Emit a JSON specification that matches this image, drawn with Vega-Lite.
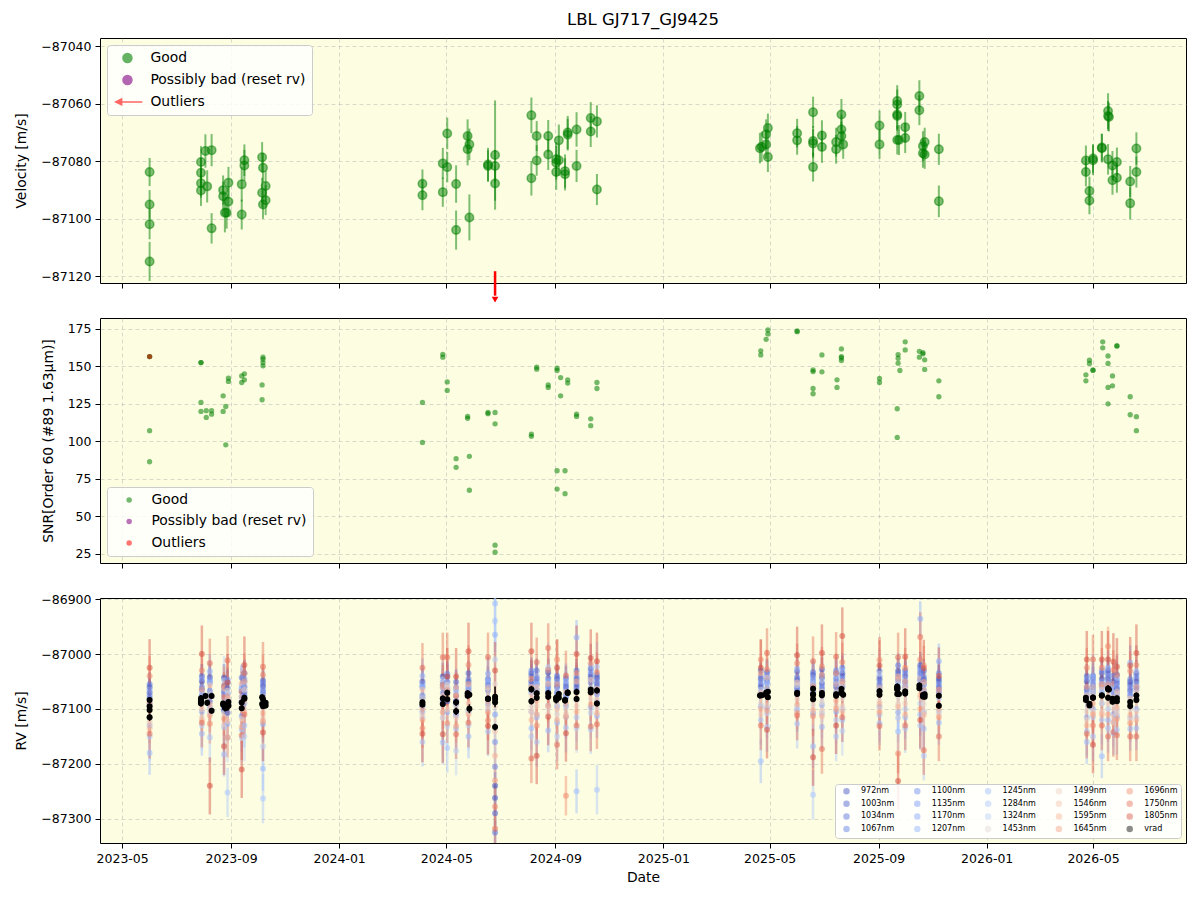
{
  "$schema": "https://vega.github.io/schema/vega-lite/v6.json",
  "background": "white",
  "padding": {"left": 14, "top": 12, "right": 14, "bottom": 10},
  "title": {"text": "LBL GJ717_GJ9425", "fontSize": 16.5, "fontWeight": "normal", "font": "DejaVu Sans", "color": "#000", "anchor": "middle", "frame": "group", "offset": 9},
  "config": {
    "font": "DejaVu Sans",
    "view": {"fill": "#fdfde1", "stroke": "#000000", "strokeWidth": 1},
    "axis": {"domain": false, "grid": true, "gridColor": "#b0b0b0", "gridOpacity": 0.6, "gridDash": [4, 3], "gridWidth": 0.8, "tickColor": "#000", "tickSize": 5, "tickWidth": 1, "labelFontSize": 12.5, "labelColor": "#000", "labelPadding": 4, "titleFontSize": 13.9, "titleFontWeight": "normal", "titleColor": "#000"},
    "axisX": {"titlePadding": 6},
    "axisY": {"titlePadding": 12},
    "legend": {"labelFont": "DejaVu Sans", "labelColor": "#000"}
  },
  "datasets": {
    "vel": [
      {"t":"2023-06-01","v":-87083.8,"e":4.9},{"t":"2023-06-01","v":-87095.1,"e":5.0},{"t":"2023-06-01","v":-87102.0,"e":5.2},{"t":"2023-06-01","v":-87114.9,"e":6.8},
      {"t":"2023-07-29","v":-87080.3,"e":5.5},{"t":"2023-07-29","v":-87084.1,"e":5.2},{"t":"2023-07-29","v":-87087.7,"e":5.0},{"t":"2023-07-29","v":-87090.2,"e":5.4},
      {"t":"2023-08-03","v":-87076.5,"e":5.8},{"t":"2023-08-05","v":-87088.8,"e":5.6},{"t":"2023-08-10","v":-87076.2,"e":5.6},{"t":"2023-08-10","v":-87103.4,"e":5.3},
      {"t":"2023-08-23","v":-87090.1,"e":5.1},{"t":"2023-08-23","v":-87092.2,"e":5.0},{"t":"2023-08-25","v":-87098.0,"e":6.8},{"t":"2023-08-27","v":-87098.0,"e":5.5},
      {"t":"2023-08-29","v":-87087.5,"e":5.5},{"t":"2023-08-29","v":-87094.1,"e":5.2},{"t":"2023-09-13","v":-87088.1,"e":6.0},{"t":"2023-09-13","v":-87098.6,"e":5.2},
      {"t":"2023-09-16","v":-87079.7,"e":5.5},{"t":"2023-09-16","v":-87081.5,"e":5.4},{"t":"2023-10-06","v":-87078.7,"e":5.3},{"t":"2023-10-06","v":-87091.0,"e":5.2},
      {"t":"2023-10-07","v":-87082.3,"e":5.1},{"t":"2023-10-07","v":-87095.1,"e":5.0},{"t":"2023-10-10","v":-87088.7,"e":5.3},{"t":"2023-10-10","v":-87093.6,"e":5.2},
      {"t":"2024-04-04","v":-87087.9,"e":5.0},{"t":"2024-04-04","v":-87091.9,"e":5.2},{"t":"2024-04-27","v":-87080.8,"e":5.4},{"t":"2024-04-27","v":-87090.8,"e":5.1},
      {"t":"2024-05-02","v":-87070.4,"e":5.5},{"t":"2024-05-02","v":-87082.1,"e":5.3},{"t":"2024-05-12","v":-87088.0,"e":6.5},{"t":"2024-05-12","v":-87104.0,"e":6.8},
      {"t":"2024-05-25","v":-87071.3,"e":5.8},{"t":"2024-05-25","v":-87075.9,"e":5.6},{"t":"2024-05-27","v":-87074.2,"e":5.5},{"t":"2024-05-27","v":-87099.6,"e":8.0},
      {"t":"2024-06-17","v":-87081.2,"e":5.8},{"t":"2024-06-17","v":-87081.7,"e":5.5},{"t":"2024-06-25","v":-87077.9,"e":19.0},{"t":"2024-06-25","v":-87081.7,"e":5.6},
      {"t":"2024-06-25","v":-87087.8,"e":6.0},{"t":"2024-06-25","v":-87133.0,"e":6.0,"o":1},
      {"t":"2024-08-05","v":-87064.1,"e":6.2},{"t":"2024-08-05","v":-87086.0,"e":6.0},{"t":"2024-08-11","v":-87071.3,"e":5.2},{"t":"2024-08-11","v":-87079.8,"e":5.3},
      {"t":"2024-08-24","v":-87071.3,"e":5.6},{"t":"2024-08-24","v":-87077.7,"e":5.4},{"t":"2024-09-02","v":-87079.4,"e":6.0},{"t":"2024-09-02","v":-87080.6,"e":5.8},
      {"t":"2024-09-02","v":-87083.8,"e":6.2},{"t":"2024-09-05","v":-87072.8,"e":5.5},{"t":"2024-09-05","v":-87079.7,"e":5.4},{"t":"2024-09-12","v":-87083.5,"e":5.8},
      {"t":"2024-09-12","v":-87084.6,"e":5.6},{"t":"2024-09-15","v":-87070.1,"e":5.8},{"t":"2024-09-15","v":-87070.8,"e":5.5},{"t":"2024-09-25","v":-87069.0,"e":6.0},
      {"t":"2024-09-25","v":-87081.7,"e":5.6},{"t":"2024-10-11","v":-87065.0,"e":5.5},{"t":"2024-10-11","v":-87069.7,"e":5.4},{"t":"2024-10-18","v":-87066.2,"e":5.6},
      {"t":"2024-10-18","v":-87089.9,"e":5.4},
      {"t":"2025-04-20","v":-87075.5,"e":5.3},{"t":"2025-04-22","v":-87075.0,"e":5.2},{"t":"2025-04-27","v":-87074.2,"e":5.0},{"t":"2025-04-27","v":-87070.7,"e":5.2},
      {"t":"2025-04-29","v":-87068.5,"e":5.0},{"t":"2025-04-29","v":-87078.6,"e":5.2},{"t":"2025-06-01","v":-87070.3,"e":5.0},{"t":"2025-06-01","v":-87072.8,"e":5.0},
      {"t":"2025-06-19","v":-87063.0,"e":5.4},{"t":"2025-06-19","v":-87073.0,"e":5.2},{"t":"2025-06-19","v":-87073.9,"e":5.0},{"t":"2025-06-19","v":-87082.1,"e":5.0},
      {"t":"2025-06-29","v":-87071.1,"e":5.3},{"t":"2025-06-29","v":-87075.1,"e":5.5},{"t":"2025-07-15","v":-87073.4,"e":5.0},{"t":"2025-07-15","v":-87075.9,"e":5.0},
      {"t":"2025-07-21","v":-87063.8,"e":5.4},{"t":"2025-07-21","v":-87069.0,"e":5.2},{"t":"2025-07-21","v":-87071.3,"e":5.0},{"t":"2025-07-23","v":-87074.2,"e":5.0},
      {"t":"2025-09-02","v":-87067.6,"e":5.2},{"t":"2025-09-02","v":-87074.2,"e":5.0},{"t":"2025-09-22","v":-87059.1,"e":5.5},{"t":"2025-09-22","v":-87060.3,"e":5.2},
      {"t":"2025-09-22","v":-87063.8,"e":5.0},{"t":"2025-09-22","v":-87064.3,"e":5.2},{"t":"2025-09-22","v":-87072.7,"e":5.0},{"t":"2025-09-24","v":-87072.7,"e":5.2},
      {"t":"2025-10-01","v":-87068.2,"e":5.3},{"t":"2025-10-01","v":-87072.0,"e":5.2},{"t":"2025-10-17","v":-87057.4,"e":5.5},{"t":"2025-10-17","v":-87062.3,"e":5.2},
      {"t":"2025-10-21","v":-87074.8,"e":5.2},{"t":"2025-10-21","v":-87077.3,"e":5.0},{"t":"2025-10-23","v":-87073.4,"e":5.0},{"t":"2025-10-23","v":-87077.7,"e":5.0},
      {"t":"2025-11-08","v":-87075.9,"e":5.4},{"t":"2025-11-08","v":-87094.0,"e":5.5},
      {"t":"2026-04-23","v":-87079.8,"e":5.2},{"t":"2026-04-23","v":-87083.8,"e":5.0},{"t":"2026-04-27","v":-87090.4,"e":5.0},{"t":"2026-04-27","v":-87093.7,"e":4.8},
      {"t":"2026-05-01","v":-87079.7,"e":5.2},{"t":"2026-05-01","v":-87079.1,"e":5.0},{"t":"2026-05-11","v":-87075.5,"e":5.0},{"t":"2026-05-11","v":-87075.3,"e":4.8},
      {"t":"2026-05-18","v":-87062.6,"e":6.2},{"t":"2026-05-18","v":-87064.3,"e":5.2},{"t":"2026-05-18","v":-87079.4,"e":5.3},{"t":"2026-05-19","v":-87064.7,"e":5.0},
      {"t":"2026-05-23","v":-87086.7,"e":5.0},{"t":"2026-05-23","v":-87081.5,"e":5.0},{"t":"2026-05-28","v":-87080.3,"e":5.0},{"t":"2026-05-28","v":-87085.8,"e":5.2},
      {"t":"2026-06-12","v":-87087.1,"e":5.4},{"t":"2026-06-12","v":-87094.7,"e":5.6},{"t":"2026-06-19","v":-87075.6,"e":5.6},{"t":"2026-06-19","v":-87083.8,"e":5.4}
    ],
    "snr": [
      {"t":"2023-06-01","s":156.6},{"t":"2023-06-01","s":156.6},{"t":"2023-06-01","s":107.2},{"t":"2023-06-01","s":86.5},
      {"t":"2023-07-29","s":152.6},{"t":"2023-07-29","s":152.6},{"t":"2023-07-29","s":126.0},{"t":"2023-07-29","s":120.0},
      {"t":"2023-08-04","s":120.5},{"t":"2023-08-04","s":116.0},{"t":"2023-08-10","s":120.5},{"t":"2023-08-10","s":118.2},
      {"t":"2023-08-23","s":130.4},{"t":"2023-08-23","s":120.0},{"t":"2023-08-26","s":123.3},{"t":"2023-08-26","s":97.8},
      {"t":"2023-08-29","s":142.2},{"t":"2023-08-29","s":140.0},{"t":"2023-09-13","s":143.7},{"t":"2023-09-13","s":139.3},
      {"t":"2023-09-16","s":145.1},{"t":"2023-09-16","s":141.1},{"t":"2023-10-06","s":137.7},{"t":"2023-10-06","s":127.8},
      {"t":"2023-10-07","s":156.2},{"t":"2023-10-07","s":154.8},{"t":"2023-10-07","s":152.6},{"t":"2023-10-07","s":150.4},
      {"t":"2024-04-04","s":126.0},{"t":"2024-04-04","s":99.4},{"t":"2024-04-27","s":158.1},{"t":"2024-04-27","s":156.2},
      {"t":"2024-05-02","s":139.7},{"t":"2024-05-02","s":134.0},{"t":"2024-05-12","s":88.5},{"t":"2024-05-12","s":82.8},
      {"t":"2024-05-25","s":116.7},{"t":"2024-05-25","s":115.4},{"t":"2024-05-27","s":90.1},{"t":"2024-05-27","s":67.5},
      {"t":"2024-06-17","s":119.3},{"t":"2024-06-17","s":118.5},{"t":"2024-06-25","s":119.3},{"t":"2024-06-25","s":111.8},
      {"t":"2024-06-25","s":30.9},{"t":"2024-06-25","s":26.2},{"t":"2024-08-05","s":104.9},{"t":"2024-08-05","s":103.4},
      {"t":"2024-08-11","s":149.5},{"t":"2024-08-11","s":148.2},{"t":"2024-08-24","s":137.7},{"t":"2024-08-24","s":136.0},
      {"t":"2024-09-03","s":148.8},{"t":"2024-09-03","s":147.3},{"t":"2024-09-03","s":80.5},{"t":"2024-09-03","s":68.3},
      {"t":"2024-09-07","s":130.4},{"t":"2024-09-07","s":142.6},{"t":"2024-09-12","s":80.5},{"t":"2024-09-12","s":65.2},
      {"t":"2024-09-15","s":141.1},{"t":"2024-09-15","s":138.9},{"t":"2024-09-25","s":118.2},{"t":"2024-09-25","s":116.7},
      {"t":"2024-10-11","s":115.1},{"t":"2024-10-11","s":110.5},{"t":"2024-10-18","s":139.3},{"t":"2024-10-18","s":135.3},
      {"t":"2025-04-21","s":160.4},{"t":"2025-04-21","s":157.7},{"t":"2025-04-27","s":168.1},{"t":"2025-04-29","s":174.3},
      {"t":"2025-04-29","s":171.7},{"t":"2025-06-01","s":173.7},{"t":"2025-06-01","s":173.2},{"t":"2025-06-19","s":147.7},
      {"t":"2025-06-19","s":146.6},{"t":"2025-06-19","s":135.3},{"t":"2025-06-19","s":131.8},{"t":"2025-06-29","s":157.7},
      {"t":"2025-06-29","s":146.4},{"t":"2025-07-16","s":141.1},{"t":"2025-07-16","s":136.0},{"t":"2025-07-21","s":161.7},
      {"t":"2025-07-21","s":156.6},{"t":"2025-07-21","s":155.7},{"t":"2025-07-21","s":153.9},{"t":"2025-09-02","s":142.0},
      {"t":"2025-09-02","s":139.3},{"t":"2025-09-22","s":121.8},{"t":"2025-09-22","s":102.7},{"t":"2025-09-23","s":155.5},
      {"t":"2025-09-23","s":152.2},{"t":"2025-09-23","s":157.9},{"t":"2025-09-25","s":147.3},{"t":"2025-10-01","s":166.4},
      {"t":"2025-10-01","s":161.0},{"t":"2025-10-17","s":160.1},{"t":"2025-10-17","s":156.2},{"t":"2025-10-21","s":159.2},
      {"t":"2025-10-21","s":158.4},{"t":"2025-10-23","s":154.4},{"t":"2025-10-23","s":148.0},{"t":"2025-11-08","s":140.4},
      {"t":"2025-11-08","s":129.8},
      {"t":"2026-04-23","s":144.4},{"t":"2026-04-23","s":140.4},{"t":"2026-04-27","s":154.2},{"t":"2026-04-27","s":152.0},
      {"t":"2026-05-01","s":147.5},{"t":"2026-05-01","s":147.5},{"t":"2026-05-12","s":166.4},{"t":"2026-05-12","s":162.4},
      {"t":"2026-05-18","s":136.0},{"t":"2026-05-18","s":125.1},{"t":"2026-05-18","s":152.0},{"t":"2026-05-18","s":157.0},
      {"t":"2026-05-23","s":143.7},{"t":"2026-05-23","s":137.1},{"t":"2026-05-28","s":163.7},{"t":"2026-05-28","s":163.7},
      {"t":"2026-06-12","s":129.8},{"t":"2026-06-12","s":117.8},{"t":"2026-06-19","s":116.5},{"t":"2026-06-19","s":107.2},
      {"t":"2023-06-01","s":156.6,"o":1}
    ],
    "werr": [
      {"w":972,"e":25},{"w":1003,"e":24},{"w":1034,"e":22},{"w":1067,"e":22},{"w":1100,"e":22},{"w":1135,"e":24},{"w":1170,"e":26},
      {"w":1207,"e":32},{"w":1245,"e":40},{"w":1284,"e":45},{"w":1324,"e":45},{"w":1453,"e":32},{"w":1499,"e":28},{"w":1546,"e":26},
      {"w":1595,"e":28},{"w":1645,"e":30},{"w":1696,"e":36},{"w":1750,"e":45},{"w":1805,"e":52}
    ],
    "rv": [
      {"t":"2023-06-01","w":972,"v":-87060},{"t":"2023-06-01","w":1003,"v":-87070},{"t":"2023-06-01","w":1034,"v":-87080},{"t":"2023-06-01","w":1067,"v":-87055},{"t":"2023-06-01","w":1100,"v":-87075},{"t":"2023-06-01","w":1135,"v":-87090},{"t":"2023-06-01","w":1170,"v":-87065},{"t":"2023-06-01","w":1207,"v":-87130},{"t":"2023-06-01","w":1245,"v":-87180},{"t":"2023-06-01","w":1284,"v":-87150},{"t":"2023-06-01","w":1324,"v":-87115},{"t":"2023-06-01","w":1453,"v":-87120},{"t":"2023-06-01","w":1499,"v":-87095},{"t":"2023-06-01","w":1546,"v":-87125},{"t":"2023-06-01","w":1595,"v":-87135},{"t":"2023-06-01","w":1645,"v":-87090},{"t":"2023-06-01","w":1696,"v":-87040},{"t":"2023-06-01","w":1750,"v":-87145},{"t":"2023-06-01","w":1805,"v":-87025},
      {"t":"2023-07-30","w":972,"v":-87050},{"t":"2023-07-30","w":1003,"v":-87065},{"t":"2023-07-30","w":1034,"v":-87040},{"t":"2023-07-30","w":1067,"v":-87075},{"t":"2023-07-30","w":1100,"v":-87060},{"t":"2023-07-30","w":1135,"v":-87080},{"t":"2023-07-30","w":1170,"v":-87045},{"t":"2023-07-30","w":1207,"v":-87105},{"t":"2023-07-30","w":1245,"v":-87145},{"t":"2023-07-30","w":1284,"v":-87070},{"t":"2023-07-30","w":1324,"v":-87130},{"t":"2023-07-30","w":1453,"v":-87115},{"t":"2023-07-30","w":1499,"v":-87080},{"t":"2023-07-30","w":1546,"v":-87100},{"t":"2023-07-30","w":1595,"v":-87120},{"t":"2023-07-30","w":1645,"v":-87065},{"t":"2023-07-30","w":1696,"v":-87030},{"t":"2023-07-30","w":1750,"v":-87125},{"t":"2023-07-30","w":1805,"v":-87000},
      {"t":"2023-08-08","w":972,"v":-87072},{"t":"2023-08-08","w":1003,"v":-87042},{"t":"2023-08-08","w":1034,"v":-87087},{"t":"2023-08-08","w":1067,"v":-87052},{"t":"2023-08-08","w":1100,"v":-87067},{"t":"2023-08-08","w":1135,"v":-87047},{"t":"2023-08-08","w":1170,"v":-87097},{"t":"2023-08-08","w":1207,"v":-87032},{"t":"2023-08-08","w":1245,"v":-87052},{"t":"2023-08-08","w":1284,"v":-87152},{"t":"2023-08-08","w":1324,"v":-87107},{"t":"2023-08-08","w":1453,"v":-87072},{"t":"2023-08-08","w":1499,"v":-87102},{"t":"2023-08-08","w":1546,"v":-87057},{"t":"2023-08-08","w":1595,"v":-87092},{"t":"2023-08-08","w":1645,"v":-87112},{"t":"2023-08-08","w":1696,"v":-87127},{"t":"2023-08-08","w":1750,"v":-87017},{"t":"2023-08-08","w":1805,"v":-87240},
      {"t":"2023-08-24","w":972,"v":-87043},{"t":"2023-08-24","w":1003,"v":-87103},{"t":"2023-08-24","w":1034,"v":-87068},{"t":"2023-08-24","w":1067,"v":-87058},{"t":"2023-08-24","w":1100,"v":-87098},{"t":"2023-08-24","w":1135,"v":-87073},{"t":"2023-08-24","w":1170,"v":-87063},{"t":"2023-08-24","w":1207,"v":-87083},{"t":"2023-08-24","w":1245,"v":-87183},{"t":"2023-08-24","w":1284,"v":-87133},{"t":"2023-08-24","w":1324,"v":-87048},{"t":"2023-08-24","w":1453,"v":-87108},{"t":"2023-08-24","w":1499,"v":-87128},{"t":"2023-08-24","w":1546,"v":-87088},{"t":"2023-08-24","w":1595,"v":-87063},{"t":"2023-08-24","w":1645,"v":-87118},{"t":"2023-08-24","w":1696,"v":-87058},{"t":"2023-08-24","w":1750,"v":-87078},{"t":"2023-08-24","w":1805,"v":-87168},
      {"t":"2023-08-28","w":972,"v":-87107},{"t":"2023-08-28","w":1003,"v":-87062},{"t":"2023-08-28","w":1034,"v":-87052},{"t":"2023-08-28","w":1067,"v":-87087},{"t":"2023-08-28","w":1100,"v":-87047},{"t":"2023-08-28","w":1135,"v":-87082},{"t":"2023-08-28","w":1170,"v":-87072},{"t":"2023-08-28","w":1207,"v":-87127},{"t":"2023-08-28","w":1245,"v":-87072},{"t":"2023-08-28","w":1284,"v":-87252},{"t":"2023-08-28","w":1324,"v":-87152},{"t":"2023-08-28","w":1453,"v":-87067},{"t":"2023-08-28","w":1499,"v":-87082},{"t":"2023-08-28","w":1546,"v":-87122},{"t":"2023-08-28","w":1595,"v":-87097},{"t":"2023-08-28","w":1645,"v":-87077},{"t":"2023-08-28","w":1696,"v":-87152},{"t":"2023-08-28","w":1750,"v":-87012},{"t":"2023-08-28","w":1805,"v":-87052},
      {"t":"2023-09-13","w":972,"v":-87068},{"t":"2023-09-13","w":1003,"v":-87088},{"t":"2023-09-13","w":1034,"v":-87078},{"t":"2023-09-13","w":1067,"v":-87043},{"t":"2023-09-13","w":1100,"v":-87063},{"t":"2023-09-13","w":1135,"v":-87113},{"t":"2023-09-13","w":1170,"v":-87088},{"t":"2023-09-13","w":1207,"v":-87058},{"t":"2023-09-13","w":1245,"v":-87138},{"t":"2023-09-13","w":1284,"v":-87063},{"t":"2023-09-13","w":1324,"v":-87153},{"t":"2023-09-13","w":1453,"v":-87098},{"t":"2023-09-13","w":1499,"v":-87118},{"t":"2023-09-13","w":1546,"v":-87078},{"t":"2023-09-13","w":1595,"v":-87053},{"t":"2023-09-13","w":1645,"v":-87133},{"t":"2023-09-13","w":1696,"v":-87068},{"t":"2023-09-13","w":1750,"v":-87148},{"t":"2023-09-13","w":1805,"v":-87210},
      {"t":"2023-09-16","w":972,"v":-87060},{"t":"2023-09-16","w":1003,"v":-87035},{"t":"2023-09-16","w":1034,"v":-87070},{"t":"2023-09-16","w":1067,"v":-87050},{"t":"2023-09-16","w":1100,"v":-87075},{"t":"2023-09-16","w":1135,"v":-87045},{"t":"2023-09-16","w":1170,"v":-87065},{"t":"2023-09-16","w":1207,"v":-87090},{"t":"2023-09-16","w":1245,"v":-87130},{"t":"2023-09-16","w":1284,"v":-87055},{"t":"2023-09-16","w":1324,"v":-87150},{"t":"2023-09-16","w":1453,"v":-87100},{"t":"2023-09-16","w":1499,"v":-87065},{"t":"2023-09-16","w":1546,"v":-87085},{"t":"2023-09-16","w":1595,"v":-87105},{"t":"2023-09-16","w":1645,"v":-87050},{"t":"2023-09-16","w":1696,"v":-87035},{"t":"2023-09-16","w":1750,"v":-87110},{"t":"2023-09-16","w":1805,"v":-87020},
      {"t":"2023-10-07","w":972,"v":-87058},{"t":"2023-10-07","w":1003,"v":-87078},{"t":"2023-10-07","w":1034,"v":-87048},{"t":"2023-10-07","w":1067,"v":-87068},{"t":"2023-10-07","w":1100,"v":-87053},{"t":"2023-10-07","w":1135,"v":-87073},{"t":"2023-10-07","w":1170,"v":-87063},{"t":"2023-10-07","w":1207,"v":-87128},{"t":"2023-10-07","w":1245,"v":-87209},{"t":"2023-10-07","w":1284,"v":-87263},{"t":"2023-10-07","w":1324,"v":-87168},{"t":"2023-10-07","w":1453,"v":-87098},{"t":"2023-10-07","w":1499,"v":-87118},{"t":"2023-10-07","w":1546,"v":-87078},{"t":"2023-10-07","w":1595,"v":-87108},{"t":"2023-10-07","w":1645,"v":-87123},{"t":"2023-10-07","w":1696,"v":-87038},{"t":"2023-10-07","w":1750,"v":-87023},{"t":"2023-10-07","w":1805,"v":-87143},
      {"t":"2024-04-04","w":972,"v":-87080},{"t":"2024-04-04","w":1003,"v":-87050},{"t":"2024-04-04","w":1034,"v":-87095},{"t":"2024-04-04","w":1067,"v":-87060},{"t":"2024-04-04","w":1100,"v":-87075},{"t":"2024-04-04","w":1135,"v":-87055},{"t":"2024-04-04","w":1170,"v":-87105},{"t":"2024-04-04","w":1207,"v":-87040},{"t":"2024-04-04","w":1245,"v":-87060},{"t":"2024-04-04","w":1284,"v":-87160},{"t":"2024-04-04","w":1324,"v":-87115},{"t":"2024-04-04","w":1453,"v":-87080},{"t":"2024-04-04","w":1499,"v":-87110},{"t":"2024-04-04","w":1546,"v":-87065},{"t":"2024-04-04","w":1595,"v":-87100},{"t":"2024-04-04","w":1645,"v":-87120},{"t":"2024-04-04","w":1696,"v":-87135},{"t":"2024-04-04","w":1750,"v":-87025},{"t":"2024-04-04","w":1805,"v":-87145},
      {"t":"2024-04-27","w":972,"v":-87041},{"t":"2024-04-27","w":1003,"v":-87091},{"t":"2024-04-27","w":1034,"v":-87056},{"t":"2024-04-27","w":1067,"v":-87061},{"t":"2024-04-27","w":1100,"v":-87086},{"t":"2024-04-27","w":1135,"v":-87071},{"t":"2024-04-27","w":1170,"v":-87051},{"t":"2024-04-27","w":1207,"v":-87081},{"t":"2024-04-27","w":1245,"v":-87161},{"t":"2024-04-27","w":1284,"v":-87116},{"t":"2024-04-27","w":1324,"v":-87046},{"t":"2024-04-27","w":1453,"v":-87106},{"t":"2024-04-27","w":1499,"v":-87116},{"t":"2024-04-27","w":1546,"v":-87076},{"t":"2024-04-27","w":1595,"v":-87061},{"t":"2024-04-27","w":1645,"v":-87106},{"t":"2024-04-27","w":1696,"v":-87056},{"t":"2024-04-27","w":1750,"v":-87006},{"t":"2024-04-27","w":1805,"v":-87146},
      {"t":"2024-05-02","w":972,"v":-87086},{"t":"2024-05-02","w":1003,"v":-87051},{"t":"2024-05-02","w":1034,"v":-87041},{"t":"2024-05-02","w":1067,"v":-87066},{"t":"2024-05-02","w":1100,"v":-87036},{"t":"2024-05-02","w":1135,"v":-87071},{"t":"2024-05-02","w":1170,"v":-87061},{"t":"2024-05-02","w":1207,"v":-87106},{"t":"2024-05-02","w":1245,"v":-87051},{"t":"2024-05-02","w":1284,"v":-87171},{"t":"2024-05-02","w":1324,"v":-87131},{"t":"2024-05-02","w":1453,"v":-87056},{"t":"2024-05-02","w":1499,"v":-87061},{"t":"2024-05-02","w":1546,"v":-87101},{"t":"2024-05-02","w":1595,"v":-87076},{"t":"2024-05-02","w":1645,"v":-87066},{"t":"2024-05-02","w":1696,"v":-87126},{"t":"2024-05-02","w":1750,"v":-87006},{"t":"2024-05-02","w":1805,"v":-87041},
      {"t":"2024-05-12","w":972,"v":-87076},{"t":"2024-05-12","w":1003,"v":-87086},{"t":"2024-05-12","w":1034,"v":-87091},{"t":"2024-05-12","w":1067,"v":-87051},{"t":"2024-05-12","w":1100,"v":-87061},{"t":"2024-05-12","w":1135,"v":-87111},{"t":"2024-05-12","w":1170,"v":-87086},{"t":"2024-05-12","w":1207,"v":-87066},{"t":"2024-05-12","w":1245,"v":-87136},{"t":"2024-05-12","w":1284,"v":-87071},{"t":"2024-05-12","w":1324,"v":-87176},{"t":"2024-05-12","w":1453,"v":-87096},{"t":"2024-05-12","w":1499,"v":-87116},{"t":"2024-05-12","w":1546,"v":-87076},{"t":"2024-05-12","w":1595,"v":-87061},{"t":"2024-05-12","w":1645,"v":-87131},{"t":"2024-05-12","w":1696,"v":-87076},{"t":"2024-05-12","w":1750,"v":-87146},{"t":"2024-05-12","w":1805,"v":-87041},
      {"t":"2024-05-26","w":972,"v":-87050},{"t":"2024-05-26","w":1003,"v":-87065},{"t":"2024-05-26","w":1034,"v":-87035},{"t":"2024-05-26","w":1067,"v":-87060},{"t":"2024-05-26","w":1100,"v":-87045},{"t":"2024-05-26","w":1135,"v":-87070},{"t":"2024-05-26","w":1170,"v":-87055},{"t":"2024-05-26","w":1207,"v":-87105},{"t":"2024-05-26","w":1245,"v":-87150},{"t":"2024-05-26","w":1284,"v":-87060},{"t":"2024-05-26","w":1324,"v":-87130},{"t":"2024-05-26","w":1453,"v":-87105},{"t":"2024-05-26","w":1499,"v":-87070},{"t":"2024-05-26","w":1546,"v":-87090},{"t":"2024-05-26","w":1595,"v":-87110},{"t":"2024-05-26","w":1645,"v":-87055},{"t":"2024-05-26","w":1696,"v":-87020},{"t":"2024-05-26","w":1750,"v":-87125},{"t":"2024-05-26","w":1805,"v":-86995},
      {"t":"2024-06-17","w":972,"v":-87066},{"t":"2024-06-17","w":1003,"v":-87046},{"t":"2024-06-17","w":1034,"v":-87081},{"t":"2024-06-17","w":1067,"v":-87056},{"t":"2024-06-17","w":1100,"v":-87061},{"t":"2024-06-17","w":1135,"v":-87051},{"t":"2024-06-17","w":1170,"v":-87091},{"t":"2024-06-17","w":1207,"v":-87036},{"t":"2024-06-17","w":1245,"v":-87046},{"t":"2024-06-17","w":1284,"v":-87141},{"t":"2024-06-17","w":1324,"v":-87101},{"t":"2024-06-17","w":1453,"v":-87066},{"t":"2024-06-17","w":1499,"v":-87096},{"t":"2024-06-17","w":1546,"v":-87061},{"t":"2024-06-17","w":1595,"v":-87086},{"t":"2024-06-17","w":1645,"v":-87106},{"t":"2024-06-17","w":1696,"v":-87121},{"t":"2024-06-17","w":1750,"v":-87006},{"t":"2024-06-17","w":1805,"v":-87131},
      {"t":"2024-06-25","w":972,"v":-87240},{"t":"2024-06-25","w":1003,"v":-87262},{"t":"2024-06-25","w":1034,"v":-87290},{"t":"2024-06-25","w":1067,"v":-87325},{"t":"2024-06-25","w":1100,"v":-87205},{"t":"2024-06-25","w":1135,"v":-87160},{"t":"2024-06-25","w":1170,"v":-87110},{"t":"2024-06-25","w":1207,"v":-86965},{"t":"2024-06-25","w":1245,"v":-86908},{"t":"2024-06-25","w":1284,"v":-86940},{"t":"2024-06-25","w":1324,"v":-87010},{"t":"2024-06-25","w":1453,"v":-87055},{"t":"2024-06-25","w":1499,"v":-87095},{"t":"2024-06-25","w":1546,"v":-87140},{"t":"2024-06-25","w":1595,"v":-87185},{"t":"2024-06-25","w":1645,"v":-87230},{"t":"2024-06-25","w":1696,"v":-87278},{"t":"2024-06-25","w":1750,"v":-87318},{"t":"2024-06-25","w":1805,"v":-87030},
      {"t":"2024-08-05","w":972,"v":-87050},{"t":"2024-08-05","w":1003,"v":-87035},{"t":"2024-08-05","w":1034,"v":-87065},{"t":"2024-08-05","w":1067,"v":-87040},{"t":"2024-08-05","w":1100,"v":-87055},{"t":"2024-08-05","w":1135,"v":-87030},{"t":"2024-08-05","w":1170,"v":-87070},{"t":"2024-08-05","w":1207,"v":-87060},{"t":"2024-08-05","w":1245,"v":-87135},{"t":"2024-08-05","w":1284,"v":-87105},{"t":"2024-08-05","w":1324,"v":-87150},{"t":"2024-08-05","w":1453,"v":-87095},{"t":"2024-08-05","w":1499,"v":-87075},{"t":"2024-08-05","w":1546,"v":-87105},{"t":"2024-08-05","w":1595,"v":-87120},{"t":"2024-08-05","w":1645,"v":-87060},{"t":"2024-08-05","w":1696,"v":-87045},{"t":"2024-08-05","w":1750,"v":-87190},{"t":"2024-08-05","w":1805,"v":-86995},
      {"t":"2024-08-11","w":972,"v":-87070},{"t":"2024-08-11","w":1003,"v":-87045},{"t":"2024-08-11","w":1034,"v":-87055},{"t":"2024-08-11","w":1067,"v":-87030},{"t":"2024-08-11","w":1100,"v":-87065},{"t":"2024-08-11","w":1135,"v":-87050},{"t":"2024-08-11","w":1170,"v":-87040},{"t":"2024-08-11","w":1207,"v":-87115},{"t":"2024-08-11","w":1245,"v":-87055},{"t":"2024-08-11","w":1284,"v":-87160},{"t":"2024-08-11","w":1324,"v":-87110},{"t":"2024-08-11","w":1453,"v":-87070},{"t":"2024-08-11","w":1499,"v":-87095},{"t":"2024-08-11","w":1546,"v":-87060},{"t":"2024-08-11","w":1595,"v":-87085},{"t":"2024-08-11","w":1645,"v":-87110},{"t":"2024-08-11","w":1696,"v":-87130},{"t":"2024-08-11","w":1750,"v":-87015},{"t":"2024-08-11","w":1805,"v":-87185},
      {"t":"2024-08-24","w":972,"v":-87034},{"t":"2024-08-24","w":1003,"v":-87069},{"t":"2024-08-24","w":1034,"v":-87044},{"t":"2024-08-24","w":1067,"v":-87059},{"t":"2024-08-24","w":1100,"v":-87029},{"t":"2024-08-24","w":1135,"v":-87054},{"t":"2024-08-24","w":1170,"v":-87064},{"t":"2024-08-24","w":1207,"v":-87049},{"t":"2024-08-24","w":1245,"v":-87139},{"t":"2024-08-24","w":1284,"v":-87094},{"t":"2024-08-24","w":1324,"v":-87024},{"t":"2024-08-24","w":1453,"v":-87099},{"t":"2024-08-24","w":1499,"v":-87109},{"t":"2024-08-24","w":1546,"v":-87074},{"t":"2024-08-24","w":1595,"v":-87054},{"t":"2024-08-24","w":1645,"v":-87094},{"t":"2024-08-24","w":1696,"v":-87029},{"t":"2024-08-24","w":1750,"v":-86989},{"t":"2024-08-24","w":1805,"v":-87114},
      {"t":"2024-09-03","w":972,"v":-87060},{"t":"2024-09-03","w":1003,"v":-87045},{"t":"2024-09-03","w":1034,"v":-87070},{"t":"2024-09-03","w":1067,"v":-87040},{"t":"2024-09-03","w":1100,"v":-87055},{"t":"2024-09-03","w":1135,"v":-87075},{"t":"2024-09-03","w":1170,"v":-87050},{"t":"2024-09-03","w":1207,"v":-87095},{"t":"2024-09-03","w":1245,"v":-87125},{"t":"2024-09-03","w":1284,"v":-87065},{"t":"2024-09-03","w":1324,"v":-87150},{"t":"2024-09-03","w":1453,"v":-87110},{"t":"2024-09-03","w":1499,"v":-87090},{"t":"2024-09-03","w":1546,"v":-87100},{"t":"2024-09-03","w":1595,"v":-87120},{"t":"2024-09-03","w":1645,"v":-87055},{"t":"2024-09-03","w":1696,"v":-87010},{"t":"2024-09-03","w":1750,"v":-87165},{"t":"2024-09-03","w":1805,"v":-87025},
      {"t":"2024-09-13","w":972,"v":-87074},{"t":"2024-09-13","w":1003,"v":-87059},{"t":"2024-09-13","w":1034,"v":-87044},{"t":"2024-09-13","w":1067,"v":-87079},{"t":"2024-09-13","w":1100,"v":-87054},{"t":"2024-09-13","w":1135,"v":-87064},{"t":"2024-09-13","w":1170,"v":-87094},{"t":"2024-09-13","w":1207,"v":-87049},{"t":"2024-09-13","w":1245,"v":-87114},{"t":"2024-09-13","w":1284,"v":-87134},{"t":"2024-09-13","w":1324,"v":-87074},{"t":"2024-09-13","w":1453,"v":-87099},{"t":"2024-09-13","w":1499,"v":-87109},{"t":"2024-09-13","w":1546,"v":-87069},{"t":"2024-09-13","w":1595,"v":-87089},{"t":"2024-09-13","w":1645,"v":-87114},{"t":"2024-09-13","w":1696,"v":-87258},{"t":"2024-09-13","w":1750,"v":-87039},{"t":"2024-09-13","w":1805,"v":-87144},
      {"t":"2024-09-25","w":972,"v":-87045},{"t":"2024-09-25","w":1003,"v":-87060},{"t":"2024-09-25","w":1034,"v":-87055},{"t":"2024-09-25","w":1067,"v":-87030},{"t":"2024-09-25","w":1100,"v":-87065},{"t":"2024-09-25","w":1135,"v":-87040},{"t":"2024-09-25","w":1170,"v":-87050},{"t":"2024-09-25","w":1207,"v":-86970},{"t":"2024-09-25","w":1245,"v":-87250},{"t":"2024-09-25","w":1284,"v":-87115},{"t":"2024-09-25","w":1324,"v":-87135},{"t":"2024-09-25","w":1453,"v":-87085},{"t":"2024-09-25","w":1499,"v":-87095},{"t":"2024-09-25","w":1546,"v":-87070},{"t":"2024-09-25","w":1595,"v":-87105},{"t":"2024-09-25","w":1645,"v":-87050},{"t":"2024-09-25","w":1696,"v":-87035},{"t":"2024-09-25","w":1750,"v":-87130},{"t":"2024-09-25","w":1805,"v":-87000},
      {"t":"2024-10-11","w":972,"v":-87042},{"t":"2024-10-11","w":1003,"v":-87027},{"t":"2024-10-11","w":1034,"v":-87062},{"t":"2024-10-11","w":1067,"v":-87037},{"t":"2024-10-11","w":1100,"v":-87052},{"t":"2024-10-11","w":1135,"v":-87047},{"t":"2024-10-11","w":1170,"v":-87032},{"t":"2024-10-11","w":1207,"v":-87097},{"t":"2024-10-11","w":1245,"v":-87022},{"t":"2024-10-11","w":1284,"v":-87137},{"t":"2024-10-11","w":1324,"v":-87107},{"t":"2024-10-11","w":1453,"v":-87062},{"t":"2024-10-11","w":1499,"v":-87082},{"t":"2024-10-11","w":1546,"v":-87047},{"t":"2024-10-11","w":1595,"v":-87072},{"t":"2024-10-11","w":1645,"v":-87092},{"t":"2024-10-11","w":1696,"v":-87017},{"t":"2024-10-11","w":1750,"v":-87132},{"t":"2024-10-11","w":1805,"v":-87007},
      {"t":"2024-10-18","w":972,"v":-87043},{"t":"2024-10-18","w":1003,"v":-87068},{"t":"2024-10-18","w":1034,"v":-87053},{"t":"2024-10-18","w":1067,"v":-87038},{"t":"2024-10-18","w":1100,"v":-87058},{"t":"2024-10-18","w":1135,"v":-87048},{"t":"2024-10-18","w":1170,"v":-87073},{"t":"2024-10-18","w":1207,"v":-87088},{"t":"2024-10-18","w":1245,"v":-87113},{"t":"2024-10-18","w":1284,"v":-87247},{"t":"2024-10-18","w":1324,"v":-87023},{"t":"2024-10-18","w":1453,"v":-87098},{"t":"2024-10-18","w":1499,"v":-87083},{"t":"2024-10-18","w":1546,"v":-87063},{"t":"2024-10-18","w":1595,"v":-87108},{"t":"2024-10-18","w":1645,"v":-87068},{"t":"2024-10-18","w":1696,"v":-87033},{"t":"2024-10-18","w":1750,"v":-87128},{"t":"2024-10-18","w":1805,"v":-87013},
      {"t":"2025-04-21","w":972,"v":-87045},{"t":"2025-04-21","w":1003,"v":-87060},{"t":"2025-04-21","w":1034,"v":-87030},{"t":"2025-04-21","w":1067,"v":-87055},{"t":"2025-04-21","w":1100,"v":-87070},{"t":"2025-04-21","w":1135,"v":-87040},{"t":"2025-04-21","w":1170,"v":-87050},{"t":"2025-04-21","w":1207,"v":-87095},{"t":"2025-04-21","w":1245,"v":-87195},{"t":"2025-04-21","w":1284,"v":-87120},{"t":"2025-04-21","w":1324,"v":-87065},{"t":"2025-04-21","w":1453,"v":-87090},{"t":"2025-04-21","w":1499,"v":-87110},{"t":"2025-04-21","w":1546,"v":-87070},{"t":"2025-04-21","w":1595,"v":-87100},{"t":"2025-04-21","w":1645,"v":-87035},{"t":"2025-04-21","w":1696,"v":-87010},{"t":"2025-04-21","w":1750,"v":-87130},{"t":"2025-04-21","w":1805,"v":-87025},
      {"t":"2025-04-28","w":972,"v":-87063},{"t":"2025-04-28","w":1003,"v":-87033},{"t":"2025-04-28","w":1034,"v":-87048},{"t":"2025-04-28","w":1067,"v":-87068},{"t":"2025-04-28","w":1100,"v":-87043},{"t":"2025-04-28","w":1135,"v":-87053},{"t":"2025-04-28","w":1170,"v":-87038},{"t":"2025-04-28","w":1207,"v":-87098},{"t":"2025-04-28","w":1245,"v":-87053},{"t":"2025-04-28","w":1284,"v":-87133},{"t":"2025-04-28","w":1324,"v":-87108},{"t":"2025-04-28","w":1453,"v":-87063},{"t":"2025-04-28","w":1499,"v":-87093},{"t":"2025-04-28","w":1546,"v":-87043},{"t":"2025-04-28","w":1595,"v":-87078},{"t":"2025-04-28","w":1645,"v":-87103},{"t":"2025-04-28","w":1696,"v":-87028},{"t":"2025-04-28","w":1750,"v":-86998},{"t":"2025-04-28","w":1805,"v":-87138},
      {"t":"2025-06-01","w":972,"v":-87047},{"t":"2025-06-01","w":1003,"v":-87062},{"t":"2025-06-01","w":1034,"v":-87032},{"t":"2025-06-01","w":1067,"v":-87057},{"t":"2025-06-01","w":1100,"v":-87042},{"t":"2025-06-01","w":1135,"v":-87067},{"t":"2025-06-01","w":1170,"v":-87052},{"t":"2025-06-01","w":1207,"v":-87027},{"t":"2025-06-01","w":1245,"v":-87102},{"t":"2025-06-01","w":1284,"v":-87127},{"t":"2025-06-01","w":1324,"v":-87097},{"t":"2025-06-01","w":1453,"v":-87057},{"t":"2025-06-01","w":1499,"v":-87082},{"t":"2025-06-01","w":1546,"v":-87052},{"t":"2025-06-01","w":1595,"v":-87092},{"t":"2025-06-01","w":1645,"v":-87107},{"t":"2025-06-01","w":1696,"v":-87017},{"t":"2025-06-01","w":1750,"v":-87112},{"t":"2025-06-01","w":1805,"v":-87002},
      {"t":"2025-06-19","w":972,"v":-87058},{"t":"2025-06-19","w":1003,"v":-87038},{"t":"2025-06-19","w":1034,"v":-87068},{"t":"2025-06-19","w":1067,"v":-87033},{"t":"2025-06-19","w":1100,"v":-87053},{"t":"2025-06-19","w":1135,"v":-87048},{"t":"2025-06-19","w":1170,"v":-87043},{"t":"2025-06-19","w":1207,"v":-87108},{"t":"2025-06-19","w":1245,"v":-87168},{"t":"2025-06-19","w":1284,"v":-87256},{"t":"2025-06-19","w":1324,"v":-87053},{"t":"2025-06-19","w":1453,"v":-87093},{"t":"2025-06-19","w":1499,"v":-87078},{"t":"2025-06-19","w":1546,"v":-87063},{"t":"2025-06-19","w":1595,"v":-87103},{"t":"2025-06-19","w":1645,"v":-87058},{"t":"2025-06-19","w":1696,"v":-87113},{"t":"2025-06-19","w":1750,"v":-87013},{"t":"2025-06-19","w":1805,"v":-87188},
      {"t":"2025-06-29","w":972,"v":-87043},{"t":"2025-06-29","w":1003,"v":-87053},{"t":"2025-06-29","w":1034,"v":-87028},{"t":"2025-06-29","w":1067,"v":-87063},{"t":"2025-06-29","w":1100,"v":-87038},{"t":"2025-06-29","w":1135,"v":-87058},{"t":"2025-06-29","w":1170,"v":-87068},{"t":"2025-06-29","w":1207,"v":-87093},{"t":"2025-06-29","w":1245,"v":-87133},{"t":"2025-06-29","w":1284,"v":-87108},{"t":"2025-06-29","w":1324,"v":-87048},{"t":"2025-06-29","w":1453,"v":-87088},{"t":"2025-06-29","w":1499,"v":-87103},{"t":"2025-06-29","w":1546,"v":-87068},{"t":"2025-06-29","w":1595,"v":-87113},{"t":"2025-06-29","w":1645,"v":-87038},{"t":"2025-06-29","w":1696,"v":-87023},{"t":"2025-06-29","w":1750,"v":-87173},{"t":"2025-06-29","w":1805,"v":-86998},
      {"t":"2025-07-15","w":972,"v":-87055},{"t":"2025-07-15","w":1003,"v":-87035},{"t":"2025-07-15","w":1034,"v":-87060},{"t":"2025-07-15","w":1067,"v":-87045},{"t":"2025-07-15","w":1100,"v":-87070},{"t":"2025-07-15","w":1135,"v":-87030},{"t":"2025-07-15","w":1170,"v":-87050},{"t":"2025-07-15","w":1207,"v":-87105},{"t":"2025-07-15","w":1245,"v":-87040},{"t":"2025-07-15","w":1284,"v":-87150},{"t":"2025-07-15","w":1324,"v":-87120},{"t":"2025-07-15","w":1453,"v":-87070},{"t":"2025-07-15","w":1499,"v":-87095},{"t":"2025-07-15","w":1546,"v":-87055},{"t":"2025-07-15","w":1595,"v":-87085},{"t":"2025-07-15","w":1645,"v":-87100},{"t":"2025-07-15","w":1696,"v":-87035},{"t":"2025-07-15","w":1750,"v":-87005},{"t":"2025-07-15","w":1805,"v":-87130},
      {"t":"2025-07-22","w":972,"v":-87035},{"t":"2025-07-22","w":1003,"v":-87060},{"t":"2025-07-22","w":1034,"v":-87040},{"t":"2025-07-22","w":1067,"v":-87025},{"t":"2025-07-22","w":1100,"v":-87050},{"t":"2025-07-22","w":1135,"v":-87045},{"t":"2025-07-22","w":1170,"v":-87055},{"t":"2025-07-22","w":1207,"v":-87030},{"t":"2025-07-22","w":1245,"v":-87120},{"t":"2025-07-22","w":1284,"v":-87100},{"t":"2025-07-22","w":1324,"v":-87140},{"t":"2025-07-22","w":1453,"v":-87080},{"t":"2025-07-22","w":1499,"v":-87095},{"t":"2025-07-22","w":1546,"v":-87055},{"t":"2025-07-22","w":1595,"v":-87105},{"t":"2025-07-22","w":1645,"v":-87050},{"t":"2025-07-22","w":1696,"v":-87015},{"t":"2025-07-22","w":1750,"v":-87115},{"t":"2025-07-22","w":1805,"v":-86967},
      {"t":"2025-09-02","w":972,"v":-87046},{"t":"2025-09-02","w":1003,"v":-87056},{"t":"2025-09-02","w":1034,"v":-87031},{"t":"2025-09-02","w":1067,"v":-87061},{"t":"2025-09-02","w":1100,"v":-87041},{"t":"2025-09-02","w":1135,"v":-87051},{"t":"2025-09-02","w":1170,"v":-87066},{"t":"2025-09-02","w":1207,"v":-87096},{"t":"2025-09-02","w":1245,"v":-87126},{"t":"2025-09-02","w":1284,"v":-87111},{"t":"2025-09-02","w":1324,"v":-87036},{"t":"2025-09-02","w":1453,"v":-87086},{"t":"2025-09-02","w":1499,"v":-87101},{"t":"2025-09-02","w":1546,"v":-87061},{"t":"2025-09-02","w":1595,"v":-87091},{"t":"2025-09-02","w":1645,"v":-87106},{"t":"2025-09-02","w":1696,"v":-87011},{"t":"2025-09-02","w":1750,"v":-87131},{"t":"2025-09-02","w":1805,"v":-87021},
      {"t":"2025-09-23","w":972,"v":-87046},{"t":"2025-09-23","w":1003,"v":-87031},{"t":"2025-09-23","w":1034,"v":-87061},{"t":"2025-09-23","w":1067,"v":-87036},{"t":"2025-09-23","w":1100,"v":-87021},{"t":"2025-09-23","w":1135,"v":-87051},{"t":"2025-09-23","w":1170,"v":-87041},{"t":"2025-09-23","w":1207,"v":-87106},{"t":"2025-09-23","w":1245,"v":-87141},{"t":"2025-09-23","w":1284,"v":-87116},{"t":"2025-09-23","w":1324,"v":-87056},{"t":"2025-09-23","w":1453,"v":-87076},{"t":"2025-09-23","w":1499,"v":-87091},{"t":"2025-09-23","w":1546,"v":-87046},{"t":"2025-09-23","w":1595,"v":-87096},{"t":"2025-09-23","w":1645,"v":-87041},{"t":"2025-09-23","w":1696,"v":-87181},{"t":"2025-09-23","w":1750,"v":-87006},{"t":"2025-09-23","w":1805,"v":-87231},
      {"t":"2025-10-01","w":972,"v":-87040},{"t":"2025-10-01","w":1003,"v":-87060},{"t":"2025-10-01","w":1034,"v":-87030},{"t":"2025-10-01","w":1067,"v":-87050},{"t":"2025-10-01","w":1100,"v":-87065},{"t":"2025-10-01","w":1135,"v":-87035},{"t":"2025-10-01","w":1170,"v":-87055},{"t":"2025-10-01","w":1207,"v":-87045},{"t":"2025-10-01","w":1245,"v":-87115},{"t":"2025-10-01","w":1284,"v":-87135},{"t":"2025-10-01","w":1324,"v":-87100},{"t":"2025-10-01","w":1453,"v":-87065},{"t":"2025-10-01","w":1499,"v":-87090},{"t":"2025-10-01","w":1546,"v":-87060},{"t":"2025-10-01","w":1595,"v":-87110},{"t":"2025-10-01","w":1645,"v":-87050},{"t":"2025-10-01","w":1696,"v":-87025},{"t":"2025-10-01","w":1750,"v":-87130},{"t":"2025-10-01","w":1805,"v":-87005},
      {"t":"2025-10-18","w":972,"v":-87045},{"t":"2025-10-18","w":1003,"v":-87020},{"t":"2025-10-18","w":1034,"v":-87035},{"t":"2025-10-18","w":1067,"v":-87025},{"t":"2025-10-18","w":1100,"v":-87050},{"t":"2025-10-18","w":1135,"v":-87030},{"t":"2025-10-18","w":1170,"v":-87040},{"t":"2025-10-18","w":1207,"v":-86936},{"t":"2025-10-18","w":1245,"v":-87110},{"t":"2025-10-18","w":1284,"v":-87130},{"t":"2025-10-18","w":1324,"v":-87090},{"t":"2025-10-18","w":1453,"v":-87060},{"t":"2025-10-18","w":1499,"v":-87080},{"t":"2025-10-18","w":1546,"v":-87045},{"t":"2025-10-18","w":1595,"v":-87075},{"t":"2025-10-18","w":1645,"v":-87100},{"t":"2025-10-18","w":1696,"v":-87010},{"t":"2025-10-18","w":1750,"v":-86969},{"t":"2025-10-18","w":1805,"v":-87120},
      {"t":"2025-10-22","w":972,"v":-87046},{"t":"2025-10-22","w":1003,"v":-87056},{"t":"2025-10-22","w":1034,"v":-87031},{"t":"2025-10-22","w":1067,"v":-87066},{"t":"2025-10-22","w":1100,"v":-87041},{"t":"2025-10-22","w":1135,"v":-87051},{"t":"2025-10-22","w":1170,"v":-87071},{"t":"2025-10-22","w":1207,"v":-87106},{"t":"2025-10-22","w":1245,"v":-87136},{"t":"2025-10-22","w":1284,"v":-87185},{"t":"2025-10-22","w":1324,"v":-87056},{"t":"2025-10-22","w":1453,"v":-87091},{"t":"2025-10-22","w":1499,"v":-87106},{"t":"2025-10-22","w":1546,"v":-87066},{"t":"2025-10-22","w":1595,"v":-87111},{"t":"2025-10-22","w":1645,"v":-87051},{"t":"2025-10-22","w":1696,"v":-87021},{"t":"2025-10-22","w":1750,"v":-87175},{"t":"2025-10-22","w":1805,"v":-87026},
      {"t":"2025-11-08","w":972,"v":-87045},{"t":"2025-11-08","w":1003,"v":-87060},{"t":"2025-11-08","w":1034,"v":-87050},{"t":"2025-11-08","w":1067,"v":-87070},{"t":"2025-11-08","w":1100,"v":-87035},{"t":"2025-11-08","w":1135,"v":-87055},{"t":"2025-11-08","w":1170,"v":-87065},{"t":"2025-11-08","w":1207,"v":-87013},{"t":"2025-11-08","w":1245,"v":-87125},{"t":"2025-11-08","w":1284,"v":-87105},{"t":"2025-11-08","w":1324,"v":-87080},{"t":"2025-11-08","w":1453,"v":-87095},{"t":"2025-11-08","w":1499,"v":-87110},{"t":"2025-11-08","w":1546,"v":-87075},{"t":"2025-11-08","w":1595,"v":-87100},{"t":"2025-11-08","w":1645,"v":-87115},{"t":"2025-11-08","w":1696,"v":-87065},{"t":"2025-11-08","w":1750,"v":-87150},{"t":"2025-11-08","w":1805,"v":-87040},
      {"t":"2026-04-24","w":972,"v":-87050},{"t":"2026-04-24","w":1003,"v":-87065},{"t":"2026-04-24","w":1034,"v":-87040},{"t":"2026-04-24","w":1067,"v":-87060},{"t":"2026-04-24","w":1100,"v":-87075},{"t":"2026-04-24","w":1135,"v":-87045},{"t":"2026-04-24","w":1170,"v":-87070},{"t":"2026-04-24","w":1207,"v":-87115},{"t":"2026-04-24","w":1245,"v":-87160},{"t":"2026-04-24","w":1284,"v":-87140},{"t":"2026-04-24","w":1324,"v":-87080},{"t":"2026-04-24","w":1453,"v":-87105},{"t":"2026-04-24","w":1499,"v":-87120},{"t":"2026-04-24","w":1546,"v":-87075},{"t":"2026-04-24","w":1595,"v":-87130},{"t":"2026-04-24","w":1645,"v":-87060},{"t":"2026-04-24","w":1696,"v":-87025},{"t":"2026-04-24","w":1750,"v":-87145},{"t":"2026-04-24","w":1805,"v":-87010},
      {"t":"2026-05-01","w":972,"v":-87060},{"t":"2026-05-01","w":1003,"v":-87040},{"t":"2026-05-01","w":1034,"v":-87070},{"t":"2026-05-01","w":1067,"v":-87045},{"t":"2026-05-01","w":1100,"v":-87055},{"t":"2026-05-01","w":1135,"v":-87065},{"t":"2026-05-01","w":1170,"v":-87050},{"t":"2026-05-01","w":1207,"v":-87100},{"t":"2026-05-01","w":1245,"v":-87040},{"t":"2026-05-01","w":1284,"v":-87150},{"t":"2026-05-01","w":1324,"v":-87115},{"t":"2026-05-01","w":1453,"v":-87070},{"t":"2026-05-01","w":1499,"v":-87105},{"t":"2026-05-01","w":1546,"v":-87060},{"t":"2026-05-01","w":1595,"v":-87090},{"t":"2026-05-01","w":1645,"v":-87110},{"t":"2026-05-01","w":1696,"v":-87130},{"t":"2026-05-01","w":1750,"v":-87010},{"t":"2026-05-01","w":1805,"v":-87165},
      {"t":"2026-05-11","w":972,"v":-87045},{"t":"2026-05-11","w":1003,"v":-87060},{"t":"2026-05-11","w":1034,"v":-87035},{"t":"2026-05-11","w":1067,"v":-87055},{"t":"2026-05-11","w":1100,"v":-87030},{"t":"2026-05-11","w":1135,"v":-87070},{"t":"2026-05-11","w":1170,"v":-87050},{"t":"2026-05-11","w":1207,"v":-87090},{"t":"2026-05-11","w":1245,"v":-87186},{"t":"2026-05-11","w":1284,"v":-87120},{"t":"2026-05-11","w":1324,"v":-87065},{"t":"2026-05-11","w":1453,"v":-87090},{"t":"2026-05-11","w":1499,"v":-87105},{"t":"2026-05-11","w":1546,"v":-87060},{"t":"2026-05-11","w":1595,"v":-87110},{"t":"2026-05-11","w":1645,"v":-87055},{"t":"2026-05-11","w":1696,"v":-87025},{"t":"2026-05-11","w":1750,"v":-87130},{"t":"2026-05-11","w":1805,"v":-87010},
      {"t":"2026-05-18","w":972,"v":-87045},{"t":"2026-05-18","w":1003,"v":-87030},{"t":"2026-05-18","w":1034,"v":-87055},{"t":"2026-05-18","w":1067,"v":-87035},{"t":"2026-05-18","w":1100,"v":-87060},{"t":"2026-05-18","w":1135,"v":-87040},{"t":"2026-05-18","w":1170,"v":-87050},{"t":"2026-05-18","w":1207,"v":-87025},{"t":"2026-05-18","w":1245,"v":-87120},{"t":"2026-05-18","w":1284,"v":-87135},{"t":"2026-05-18","w":1324,"v":-87100},{"t":"2026-05-18","w":1453,"v":-87065},{"t":"2026-05-18","w":1499,"v":-87090},{"t":"2026-05-18","w":1546,"v":-87060},{"t":"2026-05-18","w":1595,"v":-87110},{"t":"2026-05-18","w":1645,"v":-87055},{"t":"2026-05-18","w":1696,"v":-86986},{"t":"2026-05-18","w":1750,"v":-87150},{"t":"2026-05-18","w":1805,"v":-87010},
      {"t":"2026-05-24","w":972,"v":-87049},{"t":"2026-05-24","w":1003,"v":-87064},{"t":"2026-05-24","w":1034,"v":-87054},{"t":"2026-05-24","w":1067,"v":-87039},{"t":"2026-05-24","w":1100,"v":-87069},{"t":"2026-05-24","w":1135,"v":-87059},{"t":"2026-05-24","w":1170,"v":-87074},{"t":"2026-05-24","w":1207,"v":-87109},{"t":"2026-05-24","w":1245,"v":-87144},{"t":"2026-05-24","w":1284,"v":-87124},{"t":"2026-05-24","w":1324,"v":-87064},{"t":"2026-05-24","w":1453,"v":-87099},{"t":"2026-05-24","w":1499,"v":-87114},{"t":"2026-05-24","w":1546,"v":-87079},{"t":"2026-05-24","w":1595,"v":-87124},{"t":"2026-05-24","w":1645,"v":-87054},{"t":"2026-05-24","w":1696,"v":-87029},{"t":"2026-05-24","w":1750,"v":-87142},{"t":"2026-05-24","w":1805,"v":-87014},
      {"t":"2026-05-28","w":972,"v":-87063},{"t":"2026-05-28","w":1003,"v":-87038},{"t":"2026-05-28","w":1034,"v":-87073},{"t":"2026-05-28","w":1067,"v":-87053},{"t":"2026-05-28","w":1100,"v":-87048},{"t":"2026-05-28","w":1135,"v":-87068},{"t":"2026-05-28","w":1170,"v":-87058},{"t":"2026-05-28","w":1207,"v":-87113},{"t":"2026-05-28","w":1245,"v":-87043},{"t":"2026-05-28","w":1284,"v":-87138},{"t":"2026-05-28","w":1324,"v":-87103},{"t":"2026-05-28","w":1453,"v":-87073},{"t":"2026-05-28","w":1499,"v":-87108},{"t":"2026-05-28","w":1546,"v":-87068},{"t":"2026-05-28","w":1595,"v":-87098},{"t":"2026-05-28","w":1645,"v":-87118},{"t":"2026-05-28","w":1696,"v":-87038},{"t":"2026-05-28","w":1750,"v":-87148},{"t":"2026-05-28","w":1805,"v":-87023},
      {"t":"2026-06-12","w":972,"v":-87051},{"t":"2026-06-12","w":1003,"v":-87066},{"t":"2026-06-12","w":1034,"v":-87056},{"t":"2026-06-12","w":1067,"v":-87076},{"t":"2026-06-12","w":1100,"v":-87046},{"t":"2026-06-12","w":1135,"v":-87061},{"t":"2026-06-12","w":1170,"v":-87071},{"t":"2026-06-12","w":1207,"v":-87016},{"t":"2026-06-12","w":1245,"v":-87136},{"t":"2026-06-12","w":1284,"v":-87116},{"t":"2026-06-12","w":1324,"v":-87086},{"t":"2026-06-12","w":1453,"v":-87101},{"t":"2026-06-12","w":1499,"v":-87121},{"t":"2026-06-12","w":1546,"v":-87081},{"t":"2026-06-12","w":1595,"v":-87111},{"t":"2026-06-12","w":1645,"v":-87126},{"t":"2026-06-12","w":1696,"v":-87031},{"t":"2026-06-12","w":1750,"v":-87150},{"t":"2026-06-12","w":1805,"v":-87021},
      {"t":"2026-06-19","w":972,"v":-87050},{"t":"2026-06-19","w":1003,"v":-87035},{"t":"2026-06-19","w":1034,"v":-87060},{"t":"2026-06-19","w":1067,"v":-87045},{"t":"2026-06-19","w":1100,"v":-87065},{"t":"2026-06-19","w":1135,"v":-87040},{"t":"2026-06-19","w":1170,"v":-87055},{"t":"2026-06-19","w":1207,"v":-87100},{"t":"2026-06-19","w":1245,"v":-87135},{"t":"2026-06-19","w":1284,"v":-87030},{"t":"2026-06-19","w":1324,"v":-87115},{"t":"2026-06-19","w":1453,"v":-87075},{"t":"2026-06-19","w":1499,"v":-87105},{"t":"2026-06-19","w":1546,"v":-87070},{"t":"2026-06-19","w":1595,"v":-87120},{"t":"2026-06-19","w":1645,"v":-87060},{"t":"2026-06-19","w":1696,"v":-87020},{"t":"2026-06-19","w":1750,"v":-87150},{"t":"2026-06-19","w":1805,"v":-86998}
    ]
  },
  "spacing": 35,
  "bounds": "flush",
  "resolve": {
    "scale": {"y": "independent", "color": "independent", "shape": "independent", "stroke": "independent"},
    "legend": {"color": "independent", "shape": "independent", "stroke": "independent"}
  },
  "vconcat": [
    {
      "width": 1086,
      "height": 245,
      "data": {"name": "vel"},
      "encoding": {
        "x": {"field": "t", "type": "temporal",
          "scale": {"type": "utc", "domain": [{"year": 2023, "month": 4, "date": 6, "utc": true}, {"year": 2026, "month": 8, "date": 14, "utc": true}]},
          "axis": {"labels": false, "title": null,
            "values": [{"year": 2023, "month": 5, "date": 1, "utc": true}, {"year": 2023, "month": 9, "date": 1, "utc": true}, {"year": 2024, "month": 1, "date": 1, "utc": true}, {"year": 2024, "month": 5, "date": 1, "utc": true}, {"year": 2024, "month": 9, "date": 1, "utc": true}, {"year": 2025, "month": 1, "date": 1, "utc": true}, {"year": 2025, "month": 5, "date": 1, "utc": true}, {"year": 2025, "month": 9, "date": 1, "utc": true}, {"year": 2026, "month": 1, "date": 1, "utc": true}, {"year": 2026, "month": 5, "date": 1, "utc": true}]}}
      },
      "layer": [
        {
          "transform": [{"filter": "!datum.o"}],
          "mark": {"type": "errorbar", "ticks": false, "thickness": 2, "color": "#008000", "opacity": 0.5},
          "encoding": {
            "y": {"field": "v", "type": "quantitative", "scale": {"domain": [-87122.4, -87037.2], "nice": false, "zero": false},
              "axis": {"title": "Velocity [m/s]", "values": [-87120, -87100, -87080, -87060, -87040], "format": "d"}},
            "yError": {"field": "e"}
          }
        },
        {
          "transform": [{"filter": "!datum.o"}],
          "mark": {"type": "point", "filled": true, "size": 72, "fillOpacity": 0.5, "strokeOpacity": 0.5, "strokeWidth": 1.5},
          "encoding": {
            "y": {"field": "v", "type": "quantitative", "scale": {"domain": [-87122.4, -87037.2], "nice": false, "zero": false},
              "axis": {"title": "Velocity [m/s]", "values": [-87120, -87100, -87080, -87060, -87040], "format": "d"}},
            "color": {"datum": "Good", "type": "nominal",
              "scale": {"domain": ["Good", "Possibly bad (reset rv)", "Outliers"], "range": ["#008000", "#800080", "#ff0000"]},
              "legend": {"title": null, "orient": "top-left", "offset": 7, "padding": 6, "fillColor": "rgba(255,255,255,0.8)", "strokeColor": "#cccccc", "cornerRadius": 3, "labelFontSize": 13.9, "symbolSize": 81, "symbolOffset": 7.5, "labelOffset": 16, "rowPadding": 6, "symbolOpacity": 0.6, "symbolStrokeWidth": 1.5}},
            "stroke": {"datum": "Good", "type": "nominal",
              "scale": {"domain": ["Good", "Possibly bad (reset rv)", "Outliers"], "range": ["#008000", "#800080", "#ff0000"]},
              "legend": {"title": null, "orient": "top-left", "offset": 7, "padding": 6, "fillColor": "rgba(255,255,255,0.8)", "strokeColor": "#cccccc", "cornerRadius": 3, "labelFontSize": 13.9, "symbolSize": 81, "symbolOffset": 7.5, "labelOffset": 16, "rowPadding": 6, "symbolOpacity": 0.6, "symbolStrokeWidth": 1.5}},
            "shape": {"datum": "Good", "type": "nominal",
              "scale": {"domain": ["Good", "Possibly bad (reset rv)", "Outliers"], "range": ["circle", "circle", "M-2.6,0L-1.3,-0.65L-1.3,0.65ZM-1.4,0H3.3"]},
              "legend": {"title": null, "orient": "top-left", "offset": 7, "padding": 6, "fillColor": "rgba(255,255,255,0.8)", "strokeColor": "#cccccc", "cornerRadius": 3, "labelFontSize": 13.9, "symbolSize": 81, "symbolOffset": 7.5, "labelOffset": 16, "rowPadding": 6, "symbolOpacity": 0.6, "symbolStrokeWidth": 1.5}}
          }
        },
        {
          "transform": [{"filter": "datum.o"}],
          "mark": {"type": "rule", "color": "#ff0000", "strokeWidth": 2.5, "clip": false},
          "encoding": {
            "y": {"datum": -87118.3, "type": "quantitative", "scale": {"domain": [-87122.4, -87037.2], "nice": false, "zero": false}},
            "y2": {"datum": -87126.8}
          }
        },
        {
          "transform": [{"filter": "datum.o"}],
          "mark": {"type": "point", "shape": "triangle-down", "filled": true, "color": "#ff0000", "opacity": 1, "size": 45, "clip": false},
          "encoding": {
            "y": {"datum": -87128.2, "type": "quantitative", "scale": {"domain": [-87122.4, -87037.2], "nice": false, "zero": false}}
          }
        }
      ]
    },
    {
      "width": 1086,
      "height": 245,
      "data": {"name": "snr"},
      "encoding": {
        "x": {"field": "t", "type": "temporal",
          "scale": {"type": "utc", "domain": [{"year": 2023, "month": 4, "date": 6, "utc": true}, {"year": 2026, "month": 8, "date": 14, "utc": true}]},
          "axis": {"labels": false, "title": null,
            "values": [{"year": 2023, "month": 5, "date": 1, "utc": true}, {"year": 2023, "month": 9, "date": 1, "utc": true}, {"year": 2024, "month": 1, "date": 1, "utc": true}, {"year": 2024, "month": 5, "date": 1, "utc": true}, {"year": 2024, "month": 9, "date": 1, "utc": true}, {"year": 2025, "month": 1, "date": 1, "utc": true}, {"year": 2025, "month": 5, "date": 1, "utc": true}, {"year": 2025, "month": 9, "date": 1, "utc": true}, {"year": 2026, "month": 1, "date": 1, "utc": true}, {"year": 2026, "month": 5, "date": 1, "utc": true}]}},
        "y": {"field": "s", "type": "quantitative", "scale": {"domain": [19, 182.3], "nice": false, "zero": false},
          "axis": {"title": "SNR[Order 60 (#89 1.63μm)]", "values": [25, 50, 75, 100, 125, 150, 175]}}
      },
      "layer": [
        {
          "transform": [{"filter": "!datum.o"}],
          "mark": {"type": "point", "filled": true, "size": 28, "fillOpacity": 0.55, "strokeOpacity": 0.35, "strokeWidth": 1},
          "encoding": {
            "color": {"datum": "Good", "type": "nominal",
              "scale": {"domain": ["Good", "Possibly bad (reset rv)", "Outliers"], "range": ["#008000", "#800080", "#ff0000"]},
              "legend": {"title": null, "orient": "bottom-left", "offset": 7, "padding": 6, "fillColor": "rgba(255,255,255,0.8)", "strokeColor": "#cccccc", "cornerRadius": 3, "labelFontSize": 13.9, "symbolSize": 30, "symbolType": "circle", "symbolOffset": 9.2, "labelOffset": 15.3, "rowPadding": 6.5, "symbolOpacity": 0.55}}
          }
        },
        {
          "transform": [{"filter": "datum.o"}],
          "mark": {"type": "point", "filled": true, "size": 28, "fillOpacity": 0.5, "strokeOpacity": 0.35, "strokeWidth": 1},
          "encoding": {
            "color": {"datum": "Outliers", "type": "nominal"}
          }
        }
      ]
    },
    {
      "width": 1086,
      "height": 245,
      "encoding": {
        "x": {"field": "t", "type": "temporal",
          "scale": {"type": "utc", "domain": [{"year": 2023, "month": 4, "date": 6, "utc": true}, {"year": 2026, "month": 8, "date": 14, "utc": true}]},
          "axis": {"title": "Date", "format": "%Y-%m",
            "values": [{"year": 2023, "month": 5, "date": 1, "utc": true}, {"year": 2023, "month": 9, "date": 1, "utc": true}, {"year": 2024, "month": 1, "date": 1, "utc": true}, {"year": 2024, "month": 5, "date": 1, "utc": true}, {"year": 2024, "month": 9, "date": 1, "utc": true}, {"year": 2025, "month": 1, "date": 1, "utc": true}, {"year": 2025, "month": 5, "date": 1, "utc": true}, {"year": 2025, "month": 9, "date": 1, "utc": true}, {"year": 2026, "month": 1, "date": 1, "utc": true}, {"year": 2026, "month": 5, "date": 1, "utc": true}]}}
      },
      "layer": [
        {
          "data": {"name": "rv"},
          "transform": [{"lookup": "w", "from": {"data": {"name": "werr"}, "key": "w", "fields": ["e"]}}],
          "mark": {"type": "errorbar", "ticks": false, "thickness": 2.5, "opacity": 0.45, "clip": true},
          "encoding": {
            "y": {"field": "v", "type": "quantitative", "scale": {"domain": [-87344, -86898], "nice": false, "zero": false},
              "axis": {"title": "RV [m/s]", "values": [-87300, -87200, -87100, -87000, -86900], "format": "d"}},
            "yError": {"field": "e"},
            "color": {"field": "w", "type": "nominal"}
          }
        },
        {
          "data": {"name": "rv"},
          "mark": {"type": "point", "filled": true, "size": 36, "opacity": 0.55, "clip": true},
          "encoding": {
            "y": {"field": "v", "type": "quantitative", "scale": {"domain": [-87344, -86898], "nice": false, "zero": false},
              "axis": {"title": "RV [m/s]", "values": [-87300, -87200, -87100, -87000, -86900], "format": "d"}},
            "color": {"field": "w", "type": "nominal",
              "scale": {
                "domain": [972, 1003, 1034, 1067, 1100, 1135, 1170, 1207, 1245, 1284, 1324, 1453, 1499, 1546, 1595, 1645, 1696, 1750, 1805, "vrad"],
                "range": ["#3b4cc0", "#445acc", "#4e6ad8", "#5a79e4", "#6687ed", "#7396f5", "#80a3fa", "#8eb1fe", "#9dbdff", "#abc7fd", "#bad1f8", "#e2dad5", "#edd2c2", "#f4c5ae", "#f7b699", "#f6a284", "#f18d6f", "#e57059", "#d75344", "#000000"]
              },
              "legend": {"title": null, "orient": "bottom-right", "offset": 5, "columns": 5, "padding": 3, "fillColor": "rgba(255,255,255,0.85)", "strokeColor": "#cccccc", "cornerRadius": 3, "labelFontSize": 8, "symbolSize": 25, "symbolType": "circle", "symbolOffset": 4.5, "labelOffset": 10.5, "columnPadding": 13.8, "rowPadding": 0.7, "symbolOpacity": 0.65,
                "labelExpr": "datum.value === 'vrad' ? 'vrad' : datum.label + 'nm'"}
            }
          }
        },
        {
          "data": {"name": "vel"},
          "mark": {"type": "errorbar", "ticks": false, "thickness": 1.5, "color": "#000000", "clip": true},
          "encoding": {
            "y": {"field": "v", "type": "quantitative", "scale": {"domain": [-87344, -86898], "nice": false, "zero": false},
              "axis": {"title": "RV [m/s]", "values": [-87300, -87200, -87100, -87000, -86900], "format": "d"}},
            "yError": {"field": "e"}
          }
        },
        {
          "data": {"name": "vel"},
          "mark": {"type": "point", "filled": true, "size": 36, "opacity": 1, "clip": true},
          "encoding": {
            "y": {"field": "v", "type": "quantitative", "scale": {"domain": [-87344, -86898], "nice": false, "zero": false},
              "axis": {"title": "RV [m/s]", "values": [-87300, -87200, -87100, -87000, -86900], "format": "d"}},
            "color": {"datum": "vrad", "type": "nominal"}
          }
        }
      ]
    }
  ]
}
